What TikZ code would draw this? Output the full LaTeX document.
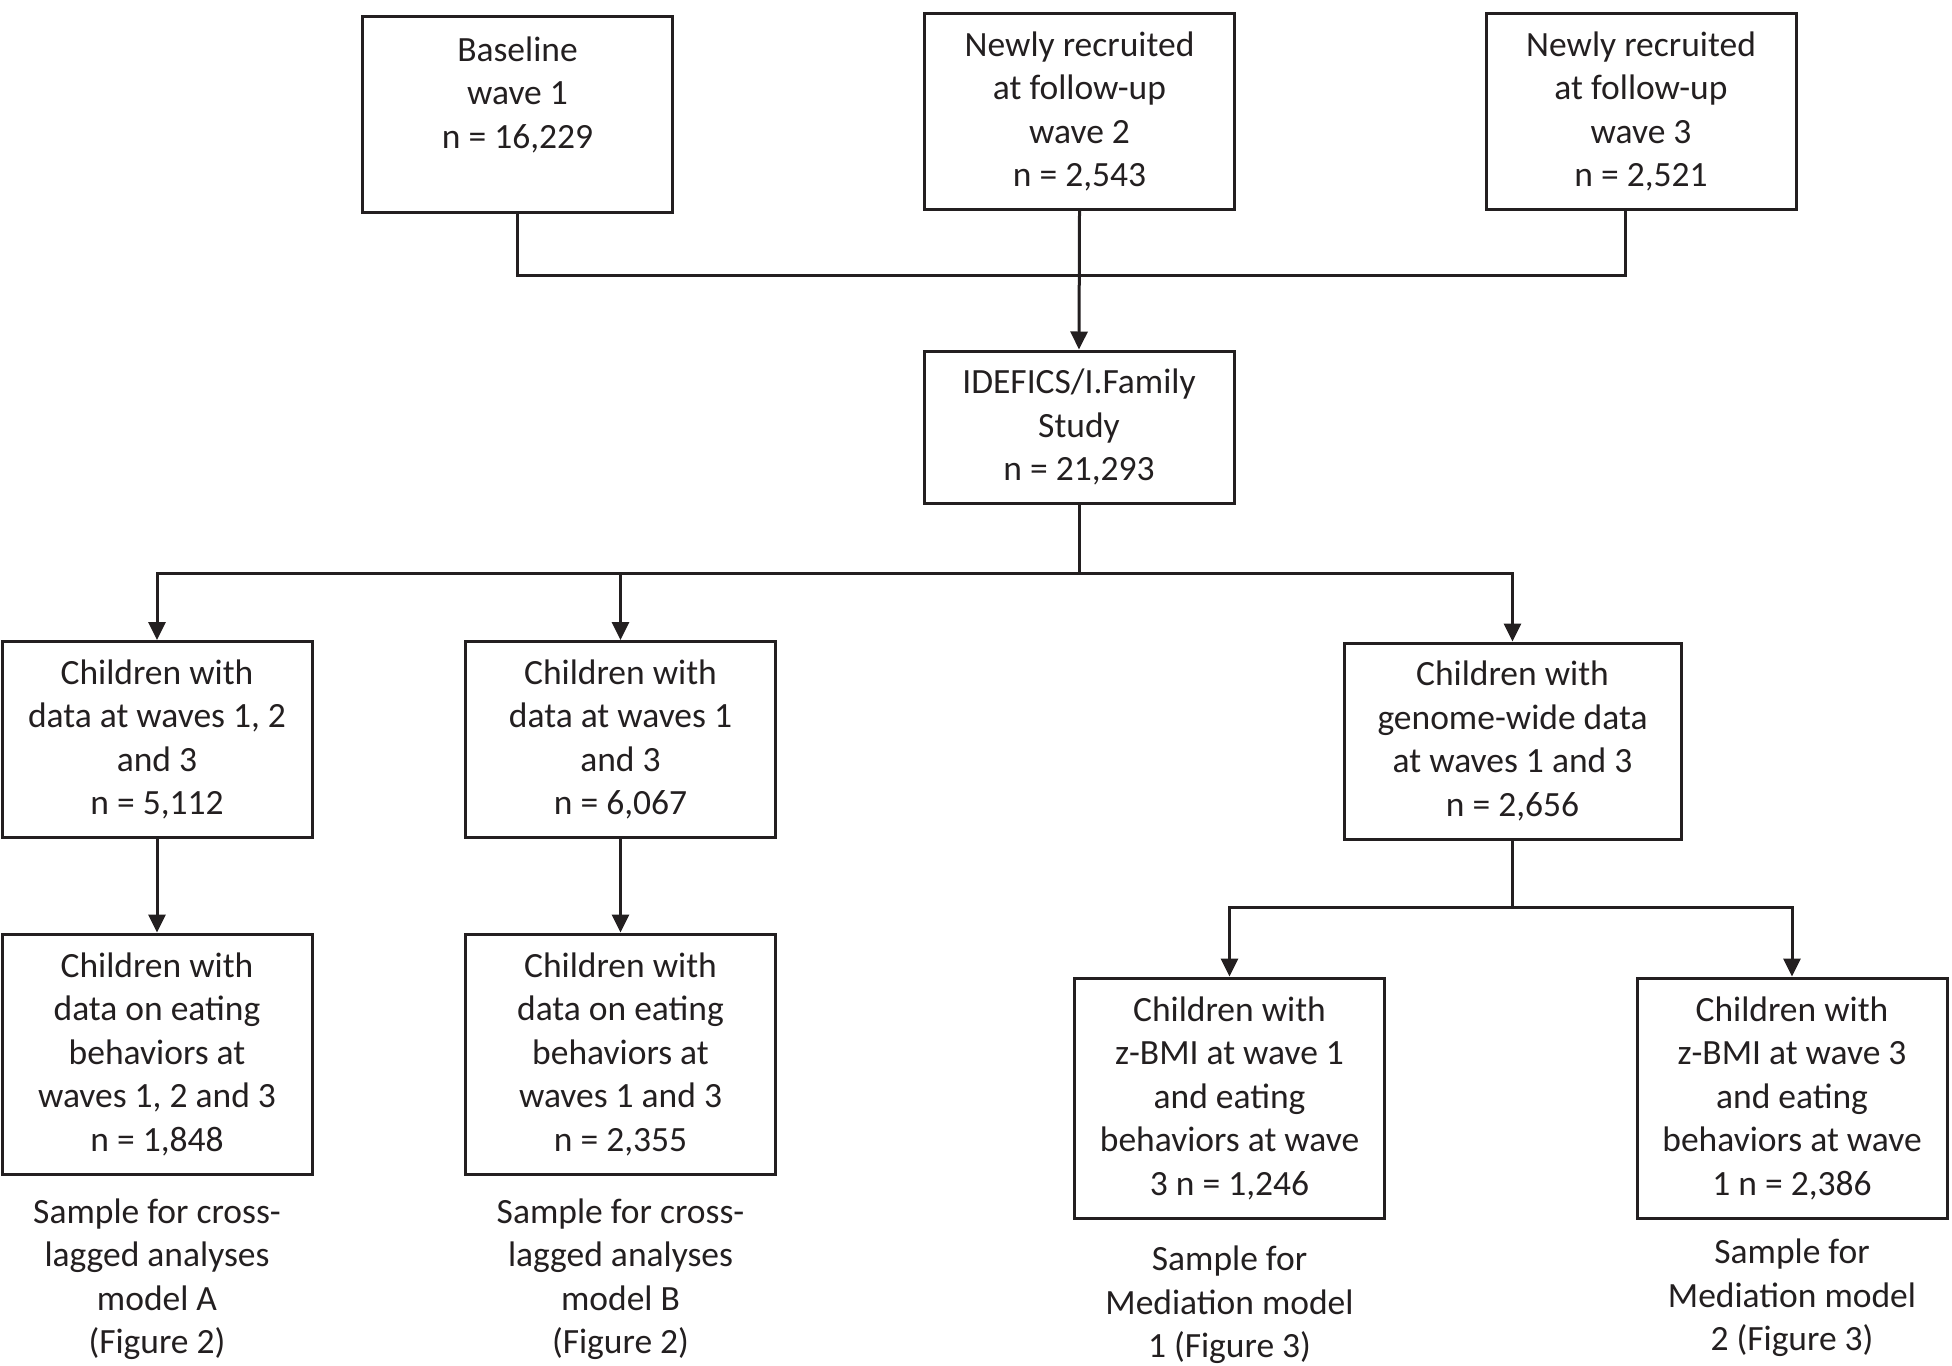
\documentclass[tikz,border=0pt]{standalone}
\usepackage{fontspec}
\setmainfont{Carlito}
\usetikzlibrary{arrows.meta}
\definecolor{ink}{RGB}{35,31,32}
\begin{document}
\begin{tikzpicture}[x=0.5pt,y=-0.5pt,
  every node/.style={text=ink, font=\fontsize{17.75}{21.75}\selectfont},
  box/.style={draw=ink, line width=1.5pt, align=center, inner sep=0pt,
              minimum width=155pt, minimum height=98pt},
  plain/.style={align=center, inner sep=0pt},
  line/.style={draw=ink, line width=1.5pt},
  arrow/.style={draw=ink, line width=1.5pt, -{Triangle[length=9pt,width=8.5pt]}}]
\useasboundingbox (0,0) rectangle (1952,1365);

% top row
\node[box] (top1) at (517.5,114) {Baseline\\wave 1\\n = 16,229\\\mbox{}};
\node[box] (top2) at (1079.5,111.5) {Newly recruited\\at follow-up\\wave 2\\n = 2,543};
\node[box] (top3) at (1641,111.5) {Newly recruited\\at follow-up\\wave 3\\n = 2,521};

\node[box, minimum height=76pt] (ide) at (1079,427) {IDEFICS/I.Family\\Study\\n = 21,293};

% second row
\node[box] (ca) at (157,739.5) {Children with\\data at waves 1, 2\\and 3\\n = 5,112};
\node[box] (cb) at (620.5,739.5) {Children with\\data at waves 1\\and 3\\n = 6,067};
\node[box, minimum width=168.5pt] (cg) at (1512.5,741) {Children with\\genome-wide data\\at waves 1 and 3\\n = 2,656};

% third row
\node[box, minimum height=120pt] (ea) at (157,1054) {Children with\\data on eating\\behaviors at\\waves 1, 2 and 3\\n = 1,848};
\node[box, minimum height=120pt] (eb) at (620.5,1054) {Children with\\data on eating\\behaviors at\\waves 1 and 3\\n = 2,355};
\node[box, minimum height=120pt] (ma) at (1229.5,1098) {Children with\\z-BMI at wave 1\\and eating\\behaviors at wave\\3 n = 1,246};
\node[box, minimum height=120pt] (mb) at (1792,1098) {Children with\\z-BMI at wave 3\\and eating\\behaviors at wave\\1 n = 2,386};

% captions
\node[plain] (sa) at (157,1279) {Sample for cross-\\lagged analyses\\model A\\(Figure 2)};
\node[plain] (sb) at (620.5,1279) {Sample for cross-\\lagged analyses\\model B\\(Figure 2)};
\node[plain] (sma) at (1229.5,1305) {Sample for\\Mediation model\\1 (Figure 3)};
\node[plain] (smb) at (1792,1298) {Sample for\\Mediation model\\2 (Figure 3)};

% connectors
\coordinate (h1) at (0,275);
\coordinate (h2) at (0,573);
\coordinate (h3) at (0,907);
\coordinate (t3) at ([xshift=-8pt]top3.south);

\draw[line] (top1.south) -- (top1.south |- h1) -- (t3 |- h1) -- (t3);
\draw[arrow] (top2.south) -- (ide.north);

\draw[line] (ide.south) -- (ide.south |- h2);
\draw[line, line cap=rect] (ca.north |- h2) -- (cg.north |- h2);
\draw[arrow] (ca.north |- h2) -- (ca.north);
\draw[arrow] (cb.north |- h2) -- (cb.north);
\draw[arrow] (cg.north |- h2) -- (cg.north);

\draw[arrow] (ca.south) -- (ea.north);
\draw[arrow] (cb.south) -- (eb.north);

\draw[line] (cg.south) -- (cg.south |- h3);
\draw[line, line cap=rect] (ma.north |- h3) -- (mb.north |- h3);
\draw[arrow] (ma.north |- h3) -- (ma.north);
\draw[arrow] (mb.north |- h3) -- (mb.north);
\end{tikzpicture}
\end{document}
